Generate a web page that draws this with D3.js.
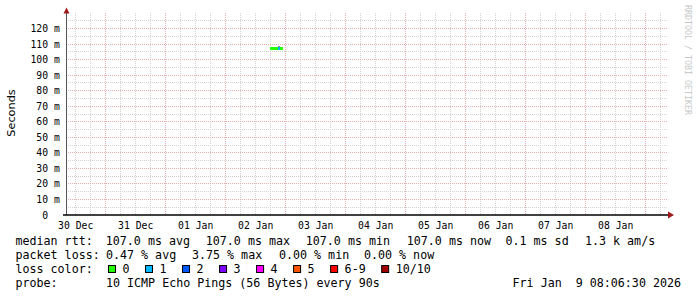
<!DOCTYPE html>
<html>
<head>
<meta charset="utf-8">
<script src="https://cdn.jsdelivr.net/npm/d3@7"></script>
<style>
body { margin: 0; background: #fff; }
svg { display: block; }
text { white-space: pre; fill: #000; }
.mono { font-family: "DejaVu Sans Mono", monospace; }
</style>
</head>
<body>
<svg id="chart" width="697" height="297"></svg>
<script>
// graph window: 10 days ending at render time
var startTime = new Date(2025, 11, 30, 8, 6, 30);
var endTime = new Date(2026, 0, 9, 8, 6, 30);

// one sample per hour on the evening of 02 Jan
var sampleTimes = ["2026-01-02 17:45", "2026-01-02 18:45", "2026-01-02 19:45", "2026-01-02 20:45", "2026-01-02 21:45"];
var sampleMinutes = 60;
var medianRtt = [107.0, 107.1, 107.0, 107.0, 107.0];   // ms
var smokeMin = [106.4, 106.6, 106.5, 106.3, 106.5];    // ms
var smokeMax = [108.3, 107.4, 107.5, 108.9, 107.4];    // ms
var lossCount = [0, 0, 0, 1, 0];

var yTickValues = [0, 10, 20, 30, 40, 50, 60, 70, 80, 90, 100, 110, 120];
var yTickLabels = ["  0", " 10 m", " 20 m", " 30 m", " 40 m", " 50 m", " 60 m", " 70 m", " 80 m", " 90 m", "100 m", "110 m", "120 m"];

var lossLabels = ["0", "1", "2", "3", "4", "5", "6-9", "10/10"];
var lossColors = ["#26ff00", "#00b8ff", "#0059ff", "#7e00ff", "#ff00ff", "#ff5500", "#ff0000", "#a00000"];

var rttLegend = ["median rtt:", "107.0 ms avg", "107.0 ms max", "107.0 ms min", "107.0 ms now", "0.1 ms sd", "1.3 k am/s"];
var lossLegend = ["packet loss:", "0.47 % avg", "3.75 % max", "0.00 % min", "0.00 % now"];
var probeLegend = ["probe:", "10 ICMP Echo Pings (56 Bytes) every 90s"];
var stampText = "Fri Jan  9 08:06:30 2026";

var svg = d3.select("#chart");
var parseTime = d3.timeParse("%Y-%m-%d %H:%M");

var x = d3.scaleTime().domain([startTime, endTime]).range([66, 666]);
var y = d3.scaleLinear().domain([0, 130]).range([215, 13]);

function crisp(v) { return Math.floor(v) + 0.5; }

// grid
var grid = svg.append("g");
var minorHours = d3.timeHour.every(6).range(startTime, endTime);
grid.selectAll("line.vmin").data(minorHours).enter().append("line")
    .attr("x1", function(d) { return crisp(x(d)); })
    .attr("x2", function(d) { return crisp(x(d)); })
    .attr("y1", 13).attr("y2", 215)
    .attr("stroke", function(d) { return d.getHours() === 0 ? "#e4b0b0" : "#d2d2d2"; })
    .attr("stroke-dasharray", "1,1");

grid.selectAll("line.hmin").data(d3.range(5, 130, 5)).enter().append("line")
    .attr("x1", 66).attr("x2", 668)
    .attr("y1", function(d) { return crisp(y(d)); })
    .attr("y2", function(d) { return crisp(y(d)); })
    .attr("stroke", function(d) { return d % 10 === 0 ? "#e4b0b0" : "#d2d2d2"; })
    .attr("stroke-dasharray", "1,1");

// smoke
var data = sampleTimes.map(function(t, i) {
    var t0 = parseTime(t);
    return { t0: t0, t1: d3.timeMinute.offset(t0, sampleMinutes), med: medianRtt[i], lo: smokeMin[i], hi: smokeMax[i], loss: lossCount[i] };
});
svg.append("g").selectAll("rect").data(data).enter().append("rect")
    .attr("x", function(d) { return x(d.t0); })
    .attr("width", function(d) { return x(d.t1) - x(d.t0); })
    .attr("y", function(d) { return y(d.hi); })
    .attr("height", function(d) { return y(d.lo) - y(d.hi); })
    .attr("fill", "#8a8a8a")
    .attr("shape-rendering", "crispEdges");

// median band, coloured by loss
var band = 1.95;
svg.append("g").selectAll("rect").data(data).enter().append("rect")
    .attr("x", function(d) { return x(d.t0); })
    .attr("width", function(d) { return x(d.t1) - x(d.t0); })
    .attr("y", function(d) { return y(d.med + band / 2); })
    .attr("height", function(d) { return y(d.med - band / 2) - y(d.med + band / 2); })
    .attr("fill", function(d) { return lossColors[d.loss]; })
    .attr("shape-rendering", "crispEdges");

// axes
svg.append("line").attr("x1", 66.5).attr("x2", 66.5).attr("y1", 10).attr("y2", 215)
    .attr("stroke", "#555");
svg.append("line").attr("x1", 63).attr("x2", 669).attr("y1", 215).attr("y2", 215)
    .attr("stroke", "#000").attr("stroke-width", 1.5);
svg.append("path").attr("d", "M63.5,13.5 L66.5,7.5 L69.5,13.5 Z").attr("fill", "#9e1a1a");
svg.append("path").attr("d", "M668,211.5 L674,215 L668,218.5 Z").attr("fill", "#9e1a1a");

// y tick labels
svg.append("g").selectAll("text").data(yTickValues).enter().append("text")
    .attr("class", "mono").attr("font-size", "9.75px")
    .attr("x", 30.5)
    .attr("y", function(d) { return y(d) + 3.5; })
    .text(function(d, i) { return yTickLabels[i]; });

// day labels centred on noon
var days = d3.timeDay.range(d3.timeDay.floor(startTime), endTime).filter(function(d) {
    return d3.timeHour.offset(d, 12) > startTime && d3.timeHour.offset(d, 12) < endTime;
});
svg.append("g").selectAll("text").data(days).enter().append("text")
    .attr("class", "mono").attr("font-size", "9.75px")
    .attr("text-anchor", "middle")
    .attr("x", function(d) { return x(d3.timeHour.offset(d, 12)); })
    .attr("y", 228.5)
    .text(d3.timeFormat("%d %b"));

// vertical title and watermark
svg.append("text").attr("transform", "translate(15,113) rotate(-90)")
    .attr("text-anchor", "middle")
    .attr("font-family", "DejaVu Sans, sans-serif").attr("font-size", "11.3px")
    .text("Seconds");
svg.append("text").attr("transform", "translate(685,60) rotate(90)")
    .attr("class", "mono").attr("font-size", "8.3px").attr("text-anchor", "middle")
    .style("fill", "#c8c8c8")
    .text("RRDTOOL / TOBI OETIKER");

// legend
var legendFont = "11.66px";
var rttX = [15.5, 105.8, 205.8, 305.8, 406.8, 505.5, 585];
var lossX = [15.5, 106, 192, 279, 364];

function legendRow(items, xs, baseline) {
    svg.append("g").selectAll("text").data(items).enter().append("text")
        .attr("class", "mono").attr("font-size", legendFont)
        .attr("x", function(d, i) { return xs[i]; })
        .attr("y", baseline)
        .text(function(d) { return d; });
}
legendRow(rttLegend, rttX, 245);
legendRow(lossLegend, lossX, 259);
legendRow(probeLegend, [15.5, 106], 287);

svg.append("text").attr("class", "mono").attr("font-size", legendFont)
    .attr("x", 15.5).attr("y", 273).text("loss color:");

var charW = 7.02;
var lx = 108.5;
lossLabels.forEach(function(lbl, i) {
    svg.append("rect").attr("x", lx).attr("y", 265.5).attr("width", 7).attr("height", 7)
        .attr("fill", lossColors[i]).attr("stroke", "#000");
    svg.append("text").attr("class", "mono").attr("font-size", legendFont)
        .attr("x", lx + 14).attr("y", 273).text(lbl);
    lx += 30 + lbl.length * charW;
});

svg.append("text").attr("class", "mono").attr("font-size", legendFont)
    .attr("text-anchor", "end").attr("x", 681).attr("y", 287).text(stampText);
</script>
</body>
</html>
